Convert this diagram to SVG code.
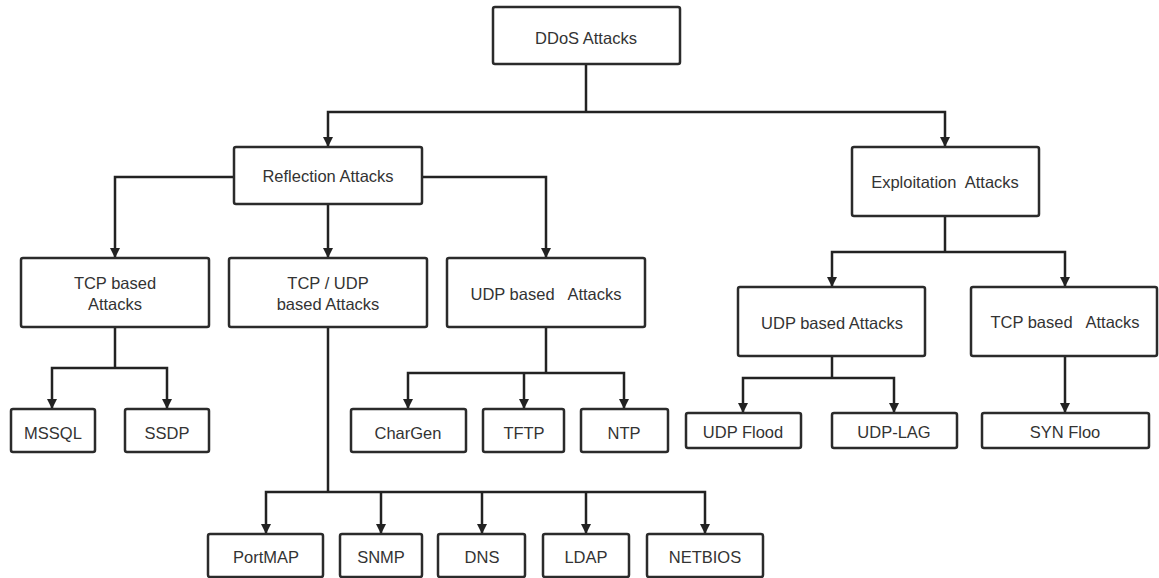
<svg xmlns="http://www.w3.org/2000/svg" width="1159" height="578" viewBox="0 0 1159 578">
  <style>
    .box { fill: #ffffff; stroke: #2b2b2b; stroke-width: 2.5; }
    .lbl { font-family: "Liberation Sans", Arial, sans-serif; font-size: 16.5px; fill: #333333; text-anchor: middle; white-space: pre; }
    .link { fill: none; stroke: #222222; stroke-width: 2.5; }
    .arrow { fill: none; stroke: #222222; stroke-width: 2.5; marker-end: url(#head); }
  </style>
  <defs>
    <marker id="head" markerUnits="userSpaceOnUse" markerWidth="12" markerHeight="12" refX="10" refY="5" orient="auto">
      <path d="M0,0 L10,5 L0,10 Z" fill="#222222"/>
    </marker>
  </defs>
  <rect width="1159" height="578" fill="#ffffff"/>

  <!-- connectors -->
  <g id="connectors">
    <path class="link" d="M586,64 V112"/>
    <path class="arrow" d="M586,112 H328 V147"/>
    <path class="arrow" d="M586,112 H945 V147"/>

    <path class="arrow" d="M234,177 H115 V258"/>
    <path class="arrow" d="M328,204 V258"/>
    <path class="arrow" d="M422,177 H546 V258"/>

    <path class="link" d="M115,327 V368"/>
    <path class="arrow" d="M115,368 H52 V409"/>
    <path class="arrow" d="M115,368 H167 V409"/>

    <path class="link" d="M546,327 V373"/>
    <path class="arrow" d="M546,373 H408 V409"/>
    <path class="arrow" d="M524,373 V409"/>
    <path class="arrow" d="M546,373 H624 V409"/>

    <path class="link" d="M328,327 V492"/>
    <path class="arrow" d="M328,492 H266 V534"/>
    <path class="arrow" d="M381,492 V534"/>
    <path class="arrow" d="M482,492 V534"/>
    <path class="arrow" d="M586,492 V534"/>
    <path class="arrow" d="M328,492 H705 V534"/>

    <path class="link" d="M945,216 V252"/>
    <path class="arrow" d="M945,252 H832 V287"/>
    <path class="arrow" d="M945,252 H1065 V287"/>

    <path class="link" d="M832,356 V378"/>
    <path class="arrow" d="M832,378 H743 V413"/>
    <path class="arrow" d="M832,378 H894 V413"/>

    <path class="arrow" d="M1065,356 V413"/>
  </g>

  <!-- root -->
  <g id="ddos">
    <rect class="box" x="493" y="7" width="187" height="57" rx="2"/>
    <text class="lbl" x="586" y="44">DDoS Attacks</text>
  </g>

  <!-- second level -->
  <g id="reflection">
    <rect class="box" x="234" y="147" width="188" height="57" rx="2"/>
    <text class="lbl" x="328" y="182">Reflection Attacks</text>
  </g>
  <g id="exploitation">
    <rect class="box" x="852" y="147" width="187" height="69" rx="2"/>
    <text class="lbl" x="945" y="188">Exploitation  Attacks</text>
  </g>

  <!-- third level -->
  <g id="tcp-reflection">
    <rect class="box" x="21" y="258" width="188" height="69" rx="2"/>
    <text class="lbl" x="115" y="289">TCP based</text>
    <text class="lbl" x="115" y="310">Attacks</text>
  </g>
  <g id="tcp-udp-reflection">
    <rect class="box" x="229" y="258" width="198" height="69" rx="2"/>
    <text class="lbl" x="328" y="289">TCP / UDP</text>
    <text class="lbl" x="328" y="310">based Attacks</text>
  </g>
  <g id="udp-reflection">
    <rect class="box" x="447" y="258" width="198" height="69" rx="2"/>
    <text class="lbl" x="546" y="300">UDP based   Attacks</text>
  </g>
  <g id="udp-exploitation">
    <rect class="box" x="738" y="287" width="187" height="69" rx="2"/>
    <text class="lbl" x="832" y="329">UDP based Attacks</text>
  </g>
  <g id="tcp-exploitation">
    <rect class="box" x="971" y="287" width="186" height="69" rx="2"/>
    <text class="lbl" x="1065" y="328">TCP based   Attacks</text>
  </g>

  <!-- leaves -->
  <g id="mssql">
    <rect class="box" x="11" y="409" width="84" height="43" rx="2"/>
    <text class="lbl" x="53" y="439">MSSQL</text>
  </g>
  <g id="ssdp">
    <rect class="box" x="125" y="409" width="84" height="43" rx="2"/>
    <text class="lbl" x="167" y="439">SSDP</text>
  </g>
  <g id="chargen">
    <rect class="box" x="351" y="409" width="115" height="43" rx="2"/>
    <text class="lbl" x="408" y="439">CharGen</text>
  </g>
  <g id="tftp">
    <rect class="box" x="483" y="409" width="81" height="43" rx="2"/>
    <text class="lbl" x="524" y="439">TFTP</text>
  </g>
  <g id="ntp">
    <rect class="box" x="581" y="409" width="87" height="43" rx="2"/>
    <text class="lbl" x="624" y="439">NTP</text>
  </g>

  <g id="portmap">
    <rect class="box" x="208" y="534" width="115" height="43" rx="2"/>
    <text class="lbl" x="266" y="563">PortMAP</text>
  </g>
  <g id="snmp">
    <rect class="box" x="340" y="534" width="82" height="43" rx="2"/>
    <text class="lbl" x="381" y="563">SNMP</text>
  </g>
  <g id="dns">
    <rect class="box" x="438" y="534" width="87" height="43" rx="2"/>
    <text class="lbl" x="482" y="563">DNS</text>
  </g>
  <g id="ldap">
    <rect class="box" x="543" y="534" width="86" height="43" rx="2"/>
    <text class="lbl" x="586" y="563">LDAP</text>
  </g>
  <g id="netbios">
    <rect class="box" x="647" y="534" width="116" height="43" rx="2"/>
    <text class="lbl" x="705" y="563">NETBIOS</text>
  </g>

  <g id="udp-flood">
    <rect class="box" x="686" y="413" width="115" height="35" rx="2"/>
    <text class="lbl" x="743" y="438">UDP Flood</text>
  </g>
  <g id="udp-lag">
    <rect class="box" x="832" y="413" width="125" height="35" rx="2"/>
    <text class="lbl" x="894" y="438">UDP-LAG</text>
  </g>
  <g id="syn-flood">
    <rect class="box" x="982" y="413" width="167" height="35" rx="2"/>
    <text class="lbl" x="1065" y="438">SYN Floo</text>
  </g>
</svg>
